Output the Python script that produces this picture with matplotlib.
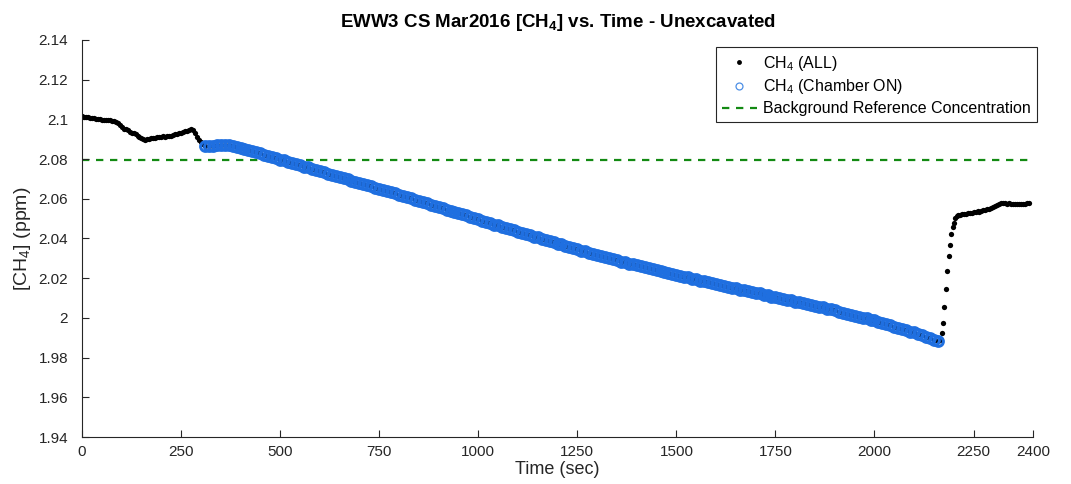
import numpy as np
import matplotlib
matplotlib.use("Agg")
import matplotlib.pyplot as plt
from matplotlib.lines import Line2D
from matplotlib.ticker import FuncFormatter

plt.rcParams["font.family"] = ["Liberation Sans", "DejaVu Sans"]
plt.rcParams["mathtext.default"] = "regular"

# [CH4] readings (ppm); chamber ON segment is plotted twice (ALL + Chamber ON)
time_pre = np.arange(0, 310, 5)
ch4_pre = [
    2.1015, 2.1012, 2.1010, 2.1011, 2.1008, 2.1006, 2.1007, 2.1004, 2.1003, 2.1002,
    2.0999, 2.0998, 2.0997, 2.0995, 2.0996, 2.0993, 2.0991, 2.0988, 2.0981, 2.0972,
    2.0962, 2.0954, 2.0950, 2.0945, 2.0938, 2.0933, 2.0930, 2.0925, 2.0918, 2.0910,
    2.0904, 2.0900, 2.0897, 2.0899, 2.0903, 2.0906, 2.0905, 2.0908, 2.0910, 2.0909,
    2.0912, 2.0914, 2.0913, 2.0916, 2.0918, 2.0917, 2.0921, 2.0924, 2.0926, 2.0929,
    2.0932, 2.0936, 2.0940, 2.0944, 2.0948, 2.0950, 2.0946, 2.0932, 2.0912, 2.0897,
    2.0886, 2.0876,
]

time_on = np.arange(310, 2170, 10)
ch4_on = [
    2.0868, 2.0865, 2.0868, 2.0869, 2.0872, 2.0871, 2.0872, 2.0867, 2.0863, 2.0855,
    2.0851, 2.0844, 2.0841, 2.0835, 2.0831, 2.0823, 2.0818, 2.0810, 2.0805, 2.0797,
    2.0793, 2.0786, 2.0781, 2.0774, 2.0769, 2.0762, 2.0758, 2.0750, 2.0746, 2.0738,
    2.0734, 2.0727, 2.0722, 2.0715, 2.0711, 2.0703, 2.0699, 2.0691, 2.0687, 2.0679,
    2.0675, 2.0667, 2.0663, 2.0656, 2.0651, 2.0643, 2.0639, 2.0632, 2.0627, 2.0619,
    2.0615, 2.0607, 2.0602, 2.0595, 2.0590, 2.0582, 2.0578, 2.0570, 2.0565, 2.0557,
    2.0553, 2.0545, 2.0541, 2.0533, 2.0529, 2.0521, 2.0517, 2.0509, 2.0505, 2.0496,
    2.0490, 2.0482, 2.0478, 2.0470, 2.0466, 2.0458, 2.0454, 2.0446, 2.0442, 2.0434,
    2.0430, 2.0422, 2.0418, 2.0410, 2.0406, 2.0398, 2.0394, 2.0386, 2.0382, 2.0374,
    2.0370, 2.0362, 2.0358, 2.0350, 2.0347, 2.0339, 2.0335, 2.0327, 2.0323, 2.0315,
    2.0312, 2.0305, 2.0301, 2.0295, 2.0291, 2.0284, 2.0282, 2.0274, 2.0271, 2.0265,
    2.0261, 2.0255, 2.0251, 2.0245, 2.0242, 2.0235, 2.0232, 2.0226, 2.0222, 2.0216,
    2.0213, 2.0207, 2.0204, 2.0197, 2.0195, 2.0188, 2.0185, 2.0179, 2.0176, 2.0170,
    2.0167, 2.0161, 2.0158, 2.0152, 2.0149, 2.0143, 2.0140, 2.0134, 2.0131, 2.0125,
    2.0123, 2.0116, 2.0114, 2.0107, 2.0105, 2.0099, 2.0096, 2.0090, 2.0088, 2.0081,
    2.0079, 2.0073, 2.0070, 2.0064, 2.0062, 2.0056, 2.0053, 2.0047, 2.0045, 2.0039,
    2.0032, 2.0027, 2.0020, 2.0017, 2.0010, 2.0007, 2.0000, 1.9997, 1.9990, 1.9987,
    1.9979, 1.9975, 1.9967, 1.9963, 1.9955, 1.9951, 1.9943, 1.9939, 1.9931, 1.9927,
    1.9918, 1.9913, 1.9904, 1.9899, 1.9890, 1.9886,
]

time_rise = [2166, 2170, 2173, 2176, 2180, 2183, 2187, 2190, 2193, 2197, 2200, 2204, 2208, 2211]
ch4_rise = [1.9890, 1.9922, 1.9976, 2.0053, 2.0144, 2.0236, 2.0313, 2.0367, 2.0421,
            2.0456, 2.0477, 2.0502, 2.0512, 2.0516]

time_post = np.arange(2215, 2395, 5)
ch4_post = [
    2.0518, 2.0522, 2.0525, 2.0524, 2.0527, 2.0529, 2.0528, 2.0531, 2.0534, 2.0536,
    2.0535, 2.0539, 2.0542, 2.0545, 2.0548, 2.0551, 2.0554, 2.0558, 2.0563, 2.0568,
    2.0573, 2.0577, 2.0579, 2.0578, 2.0576, 2.0577, 2.0575, 2.0573, 2.0575, 2.0574,
    2.0576, 2.0574, 2.0573, 2.0576, 2.0579, 2.0577,
]

background_ref = 2.0794

time_all = np.concatenate([time_pre, time_on, time_rise, time_post])
ch4_all = np.concatenate([ch4_pre, ch4_on, ch4_rise, ch4_post])

blue = "#1f6fe0"
green = "#138a13"
axis_col = "#262626"

fig = plt.figure(figsize=(10.71, 4.84), dpi=100)
ax = fig.add_axes([0.0766, 0.0971, 0.8879, 0.8203])

ax.plot(time_all, ch4_all, "o", color="black", ms=3.8, mew=0, zorder=2)
ax.plot(time_on, ch4_on, "o", mfc="none", mec=blue, ms=7, mew=2.2, zorder=3)
ax.plot([0, 2400], [background_ref, background_ref], "--", color=green,
        lw=1.6, dashes=(3.3, 3.0), zorder=1)

ax.set_xlim(0, 2400)
ax.set_ylim(1.94, 2.14)
ax.set_xticks([0, 250, 500, 750, 1000, 1250, 1500, 1750, 2000, 2250, 2400])
ax.set_yticks(np.round(np.arange(1.94, 2.141, 0.02), 2))
ax.yaxis.set_major_formatter(FuncFormatter(lambda v, p: "{:g}".format(round(v, 2))))

for side in ["top", "right"]:
    ax.spines[side].set_visible(False)
for side in ["left", "bottom"]:
    ax.spines[side].set_color(axis_col)
    ax.spines[side].set_linewidth(0.8)
ax.tick_params(direction="in", length=5, width=0.8, colors=axis_col, labelsize=11)
ax.tick_params(axis="x", pad=6)
ax.tick_params(axis="y", pad=10)

ax.set_xlabel("Time (sec)", fontsize=13, color=axis_col, labelpad=1)
ax.set_ylabel("[CH$_4$] (ppm)", fontsize=14, color=axis_col, labelpad=4)
ax.set_title("EWW3 CS Mar2016 [CH$_4$] vs. Time - Unexcavated",
             fontsize=13.5, fontweight="bold", color="black", pad=9)

# legend keys drawn small, like the figure's own key glyphs
handles = [
    Line2D([], [], ls="none", marker="o", color="black", ms=3.5, mew=0),
    Line2D([], [], ls="none", marker="o", mfc="none", mec="#4d8fe6", ms=5, mew=0.9),
    Line2D([], [], ls="--", color=green, lw=1.6, dashes=(3.3, 3.0)),
]
labels = ["CH$_4$ (ALL)", "CH$_4$ (Chamber ON)", "Background Reference Concentration"]
leg = ax.legend(handles, labels, loc="upper right", bbox_to_anchor=(1.004, 0.982),
                fontsize=11.5, frameon=True, fancybox=False, framealpha=1,
                edgecolor=axis_col, borderaxespad=0, handlelength=2.2,
                handletextpad=0.35, labelspacing=0.3, borderpad=0.4)
leg.get_frame().set_linewidth(0.8)

fig.savefig("out.png", dpi=100)
